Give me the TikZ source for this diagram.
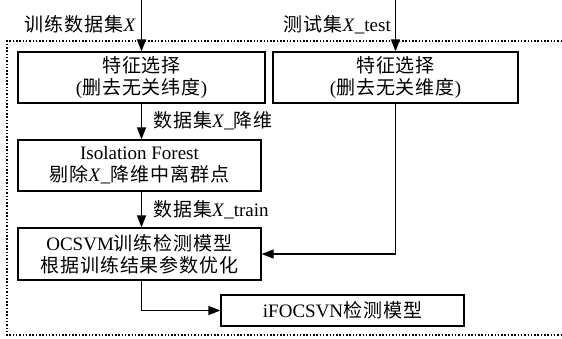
\documentclass[tikz,border=0pt]{standalone}
\usepackage{fontspec}
\setmainfont{Liberation Serif}
\newfontfamily\cjk[LetterSpace=5]{Noto Sans CJK SC}
\usetikzlibrary{arrows.meta}
\newcommand\zh[1]{{\cjk #1}}
\newcommand\ix{\textit{X}}
\begin{document}
\begin{tikzpicture}[x=1pt,y=-1pt,
  box/.style={draw, line width=1.2pt, align=center, inner sep=0pt, font=\fontsize{19}{22}\selectfont},
  lbl/.style={inner sep=0pt, font=\fontsize{19}{22}\selectfont},
  arr/.style={line width=1.2pt, -{Triangle[length=12pt,width=9pt]}},
  frame/.style={line width=1.5pt, dash pattern=on 1.5pt off 1.8pt}]
\useasboundingbox (0,0) rectangle (562,338);
% frame
\draw[frame] (562,41) -- (7,41) -- (7,335) -- (562,335);
% boxes
\node[box, minimum width=247pt, minimum height=51pt] (A) at (141.5,77.5) {\zh{特征选择}\\(\zh{删去无关纬度})};
\node[box, minimum width=245pt, minimum height=51pt] (B) at (395.5,77.5) {\zh{特征选择}\\(\zh{删去无关维度})};
\node[box, minimum width=243pt, minimum height=51pt] (C) at (139.5,165.5) {Isolation Forest\\\zh{剔除}\ix\_\zh{降维中离群点}};
\node[box, minimum width=243pt, minimum height=52pt] (D) at (139.5,254) {OCSVM\zh{训练检测模型}\\\zh{根据训练结果参数优化}};
\node[box, minimum width=243pt, minimum height=31pt] (E) at (342.5,310.5) {iFOCSVN\zh{检测模型}};
% inputs
\coordinate (inA) at (141.5,0);
\coordinate (inB) at (395.5,0);
\draw[arr] (inA) -- (A);
\draw[arr] (inB) -- (B);
\node[lbl, anchor=base east] (lA) at (136,31) {\zh{训练数据集}\ix};
\node[lbl, anchor=base east] (lB) at (391,31) {\zh{测试集}\ix\_test};
% flow
\draw[arr] (A.south) -- (A.south |- C.north);
\draw[arr] (A.south |- C.south) -- (A.south |- D.north);
\node[lbl, anchor=base west] (l1) at (153,127) {\zh{数据集}\ix\_\zh{降维}};
\node[lbl, anchor=base west] (l2) at (153,216) {\zh{数据集}\ix\_train};
\draw[arr] (B.south) |- (D.east);
\draw[arr] (A.south |- D.south) |- (E.west);
\end{tikzpicture}
\end{document}
